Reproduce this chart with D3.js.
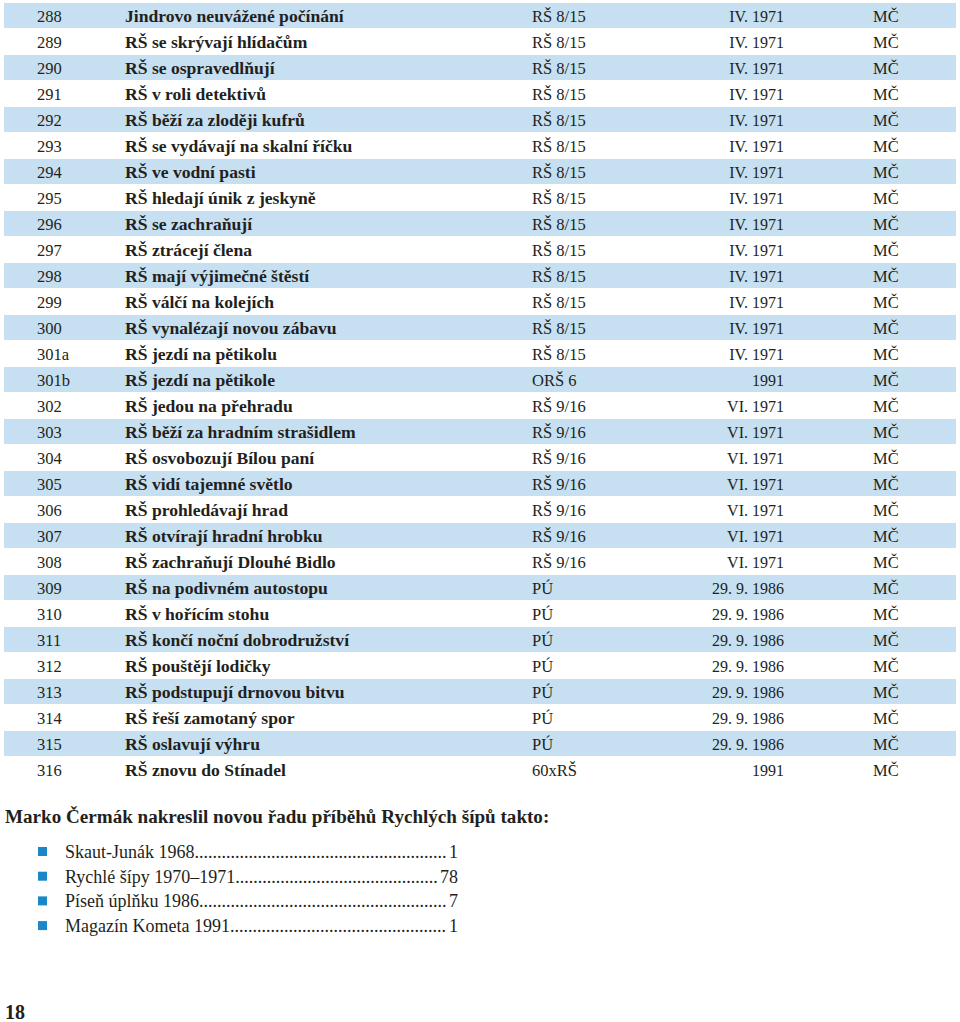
<!DOCTYPE html>
<html>
<head>
<meta charset="utf-8">
<script src="https://cdn.jsdelivr.net/npm/d3@7"></script>
<style>
  body { margin: 0; background: #fff; }
  svg text { font-family: "Liberation Serif", "DejaVu Serif", serif; fill: #231f20; }
</style>
</head>
<body>
<div id="table"></div>
<script>
// data straight off the page
var numbers = ["288","289","290","291","292","293","294","295","296","297","298","299","300",
  "301a","301b","302","303","304","305","306","307","308","309","310","311","312","313","314","315","316"];

var titles = [
  "Jindrovo neuvážené počínání",
  "RŠ se skrývají hlídačům",
  "RŠ se ospravedlňují",
  "RŠ v roli detektivů",
  "RŠ běží za zloději kufrů",
  "RŠ se vydávají na skalní říčku",
  "RŠ ve vodní pasti",
  "RŠ hledají únik z jeskyně",
  "RŠ se zachraňují",
  "RŠ ztrácejí člena",
  "RŠ mají výjimečné štěstí",
  "RŠ válčí na kolejích",
  "RŠ vynalézají novou zábavu",
  "RŠ jezdí na pětikolu",
  "RŠ jezdí na pětikole",
  "RŠ jedou na přehradu",
  "RŠ běží za hradním strašidlem",
  "RŠ osvobozují Bílou paní",
  "RŠ vidí tajemné světlo",
  "RŠ prohledávají hrad",
  "RŠ otvírají hradní hrobku",
  "RŠ zachraňují Dlouhé Bidlo",
  "RŠ na podivném autostopu",
  "RŠ v hořícím stohu",
  "RŠ končí noční dobrodružství",
  "RŠ pouštějí lodičky",
  "RŠ podstupují drnovou bitvu",
  "RŠ řeší zamotaný spor",
  "RŠ oslavují výhru",
  "RŠ znovu do Stínadel"
];

var sources = ["RŠ 8/15","RŠ 8/15","RŠ 8/15","RŠ 8/15","RŠ 8/15","RŠ 8/15","RŠ 8/15","RŠ 8/15",
  "RŠ 8/15","RŠ 8/15","RŠ 8/15","RŠ 8/15","RŠ 8/15","RŠ 8/15","ORŠ 6",
  "RŠ 9/16","RŠ 9/16","RŠ 9/16","RŠ 9/16","RŠ 9/16","RŠ 9/16","RŠ 9/16",
  "PÚ","PÚ","PÚ","PÚ","PÚ","PÚ","PÚ","60xRŠ"];

var dates = ["IV. 1971","IV. 1971","IV. 1971","IV. 1971","IV. 1971","IV. 1971","IV. 1971","IV. 1971",
  "IV. 1971","IV. 1971","IV. 1971","IV. 1971","IV. 1971","IV. 1971","1991",
  "VI. 1971","VI. 1971","VI. 1971","VI. 1971","VI. 1971","VI. 1971","VI. 1971",
  "29. 9. 1986","29. 9. 1986","29. 9. 1986","29. 9. 1986","29. 9. 1986","29. 9. 1986","29. 9. 1986","1991"];

var authors = numbers.map(function() { return "MČ"; });

var listLabels = ["Skaut-Junák 1968", "Rychlé šípy 1970–1971", "Píseň úplňku 1986", "Magazín Kometa 1991"];
var listCounts = [1, 78, 7, 1];

var heading = "Marko Čermák nakreslil novou řadu příběhů Rychlých šípů takto:";
var pageNumber = "18";

var svgWidth = 960;
var svgHeight = 1022;

var svg = d3.select("#table")
  .append("svg")
  .attr("width", svgWidth)
  .attr("height", svgHeight);

var rows = numbers.map(function(n, i) {
  return { num: n, title: titles[i], src: sources[i], date: dates[i], author: authors[i], i: i };
});

// one band per row
var y = d3.scaleBand()
  .domain(numbers)
  .range([3, 3 + 26 * numbers.length])
  .padding(0);

// bands behind every other row
svg.selectAll("rect.band")
  .data(rows.filter(function(d) { return d.i % 2 === 0; }))
  .enter()
  .append("rect")
  .attr("class", "band")
  .attr("x", 4)
  .attr("y", function(d) { return y(d.num); })
  .attr("width", 952)
  .attr("height", y.bandwidth() - 1)
  .attr("fill", "#c6dff1");

var rowG = svg.selectAll("g.row")
  .data(rows)
  .enter()
  .append("g")
  .attr("class", "row")
  .attr("transform", function(d) { return "translate(0," + (y(d.num) + 19) + ")"; });

rowG.append("text")
  .attr("x", 37)
  .style("font-size", "16.5px")
  .text(function(d) { return d.num; });

rowG.append("text")
  .attr("x", 125)
  .style("font-size", "17.6px")
  .style("font-weight", "bold")
  .text(function(d) { return d.title; });

rowG.append("text")
  .attr("x", 532)
  .style("font-size", "16.5px")
  .text(function(d) { return d.src; });

rowG.append("text")
  .attr("x", 784)
  .attr("text-anchor", "end")
  .style("font-size", "16px")
  .text(function(d) { return d.date; });

rowG.append("text")
  .attr("x", 873)
  .style("font-size", "16.5px")
  .text(function(d) { return d.author; });

// heading under the table
svg.append("text")
  .attr("x", 5)
  .attr("y", 823)
  .style("font-size", "19.1px")
  .style("font-weight", "bold")
  .text(heading);

var ly = d3.scaleBand()
  .domain(listLabels)
  .range([840, 840 + 24.7 * listLabels.length]);

var items = svg.selectAll("g.item")
  .data(listLabels)
  .enter()
  .append("g")
  .attr("class", "item")
  .attr("transform", function(d) { return "translate(0," + ly(d) + ")"; });

items.append("rect")
  .attr("x", 38)
  .attr("y", 7)
  .attr("width", 9)
  .attr("height", 9)
  .attr("fill", "#1b87c9");

// dotted leader lines
items.append("text")
  .attr("x", 65)
  .attr("y", 18)
  .style("font-size", "18px")
  .text(function(d, i) {
    var dots = "";
    for (var k = 0; k < 120; k++) dots += ".";
    return d + dots;
  })
  .attr("class", "lead");

items.each(function(d, i) {
  var g = d3.select(this);
  var numText = g.append("text")
    .attr("x", 458)
    .attr("y", 18)
    .attr("text-anchor", "end")
    .style("font-size", "18px")
    .text(listCounts[i]);
  var numW = numText.node().getComputedTextLength();
  var lead = g.select("text.lead");
  // trim dots until the line stops just before the count
  var txt = lead.text();
  while (65 + lead.node().getComputedTextLength() > 458 - numW - 1 && txt.length > d.length) {
    txt = txt.slice(0, -1);
    lead.text(txt);
  }
});

svg.append("text")
  .attr("x", 5)
  .attr("y", 1019)
  .style("font-size", "20px")
  .style("font-weight", "bold")
  .text(pageNumber);
</script>
</body>
</html>
